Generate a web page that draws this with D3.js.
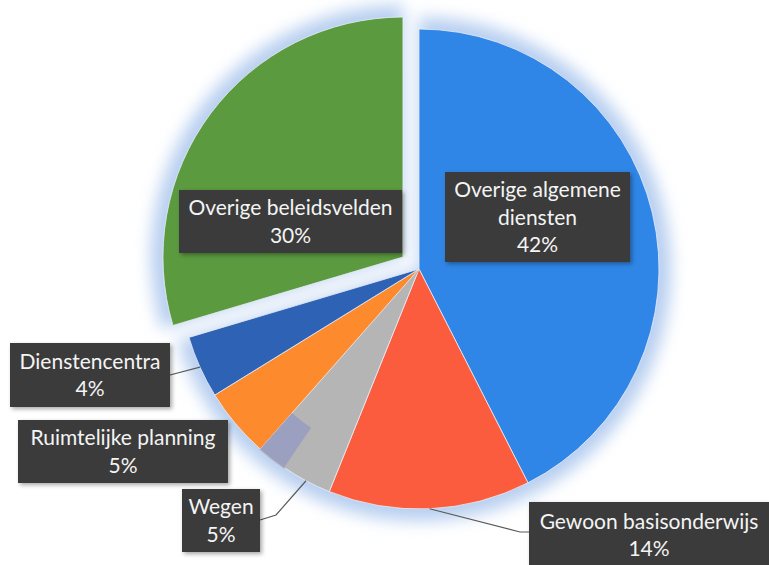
<!DOCTYPE html>
<html>
<head>
<meta charset="utf-8">
<script src="https://cdn.jsdelivr.net/npm/d3@7/dist/d3.min.js"></script>
<style>
  html, body { margin: 0; padding: 0; background: #ffffff; }
  svg { display: block; }
  text { font-family: Lato, "Open Sans", sans-serif; }
</style>
</head>
<body>
<svg id="chart" width="769" height="565"></svg>
<script>
// ---- data ----
const categories = [
  "Overige algemene diensten",
  "Gewoon basisonderwijs",
  "Wegen",
  "(overig)",
  "Ruimtelijke planning",
  "Dienstencentra",
  "Overige beleidsvelden"
];
const values = [42.5, 13.6, 3.4, 2.0, 4.7, 4.2, 29.6];
const percentLabels = ["42%", "14%", "5%", "", "5%", "4%", "30%"];
const labelLines = [
  ["Overige algemene", "diensten"],
  ["Gewoon basisonderwijs"],
  ["Wegen"],
  [],
  ["Ruimtelijke planning"],
  ["Dienstencentra"],
  ["Overige beleidsvelden"]
];
const colors = ["#2f86e6", "#fa5c3d", "#b5b5b5", "#9ca0c0", "#fd8b2d", "#2d62b4", "#5b9a3f"];

// ---- layout ----
const svg = d3.select("#chart");
const cx = 419, cy = 269, r = 240;
const explode = [0, 0, 0, 0, 0, 0, 20];
const rimOnly = [false, false, false, true, false, false, false]; // small slice only visible at the rim

const defs = svg.append("defs");
const glow = defs.append("filter").attr("id", "glow")
  .attr("x", "-20%").attr("y", "-20%").attr("width", "140%").attr("height", "140%");
glow.append("feGaussianBlur").attr("stdDeviation", 8);
const shadow = defs.append("filter").attr("id", "shadow")
  .attr("x", "-10%").attr("y", "-10%").attr("width", "130%").attr("height", "140%");
shadow.append("feDropShadow").attr("dx", 2).attr("dy", 2).attr("stdDeviation", 2)
  .attr("flood-color", "#000").attr("flood-opacity", 0.35);

const pie = d3.pie().sort(null).value(d => d)(values);
const arc = d3.arc().innerRadius(0).outerRadius(r);
const rimArc = d3.arc().innerRadius(r * 0.8).outerRadius(r);
const glowArc = d3.arc().innerRadius(0).outerRadius(r + 12);

function offset(d, i) {
  const mid = (d.startAngle + d.endAngle) / 2;
  return [Math.sin(mid) * explode[i], -Math.cos(mid) * explode[i]];
}

const g = svg.append("g").attr("transform", `translate(${cx},${cy})`);

// soft light-blue glow behind the pie
g.append("g").attr("filter", "url(#glow)")
  .selectAll("path").data(pie).join("path")
  .attr("transform", (d, i) => `translate(${offset(d, i)})`)
  .attr("d", glowArc)
  .attr("fill", "#b7cff0");

// slices (rim-only slice sits over a wedge in the neighbouring colour)
g.append("g").selectAll("path").data(pie).join("path")
  .attr("transform", (d, i) => `translate(${offset(d, i)})`)
  .attr("d", arc)
  .attr("fill", (d, i) => rimOnly[i] ? colors[i - 1] : colors[i])
  .attr("stroke", (d, i) => rimOnly[i] ? colors[i - 1] : "#e9eef7")
  .attr("stroke-width", (d, i) => rimOnly[i] ? 2 : 0.8);
g.append("g").selectAll("path").data(pie.filter((d, i) => rimOnly[i])).join("path")
  .attr("d", rimArc)
  .attr("fill", d => colors[d.index]);

// label boxes (box positions in px)
const boxes = {
  0: { x: 445, y: 172, w: 185, h: 90 },
  1: { x: 529, y: 502, w: 240, h: 66 },
  2: { x: 182, y: 489, w: 78,  h: 63 },
  4: { x: 18,  y: 420, w: 210, h: 63 },
  5: { x: 10,  y: 343, w: 160, h: 64 },
  6: { x: 179, y: 190, w: 223, h: 63 }
};

// leader lines from slice mid-angle on the rim to the label box
function rimPoint(i) {
  const d = pie[i];
  const mid = (d.startAngle + d.endAngle) / 2;
  const o = offset(d, i);
  return [cx + o[0] + Math.sin(mid) * r, cy + o[1] - Math.cos(mid) * r];
}
const leaders = [
  { i: 5, pts: b => [rimPoint(5), [b.x + b.w, 375]] },
  { i: 2, pts: b => [rimPoint(2), [276, 515], [b.x + b.w, 520]] },
  { i: 1, pts: b => [rimPoint(1), [520, 532], [b.x, 532]] }
];
leaders.forEach(l => {
  svg.append("path")
    .attr("d", d3.line()(l.pts(boxes[l.i])))
    .attr("fill", "none")
    .attr("stroke", "#5a5a5a")
    .attr("stroke-width", 1.2);
});

Object.keys(boxes).forEach(k => {
  const i = +k, b = boxes[k];
  const lab = svg.append("g");
  lab.append("rect")
    .attr("x", b.x).attr("y", b.y).attr("width", b.w).attr("height", b.h)
    .attr("fill", "#3a3a3a").attr("filter", "url(#shadow)");
  const lines = labelLines[i].concat([percentLabels[i]]);
  const lh = 27.5;
  const top = b.y + b.h / 2 - (lines.length - 1) * lh / 2;
  lines.forEach((t, j) => {
    lab.append("text")
      .attr("x", b.x + b.w / 2)
      .attr("y", top + j * lh)
      .attr("dy", "0.36em")
      .attr("text-anchor", "middle")
      .attr("fill", "#f4f4f4")
      .attr("font-size", 21)
      .text(t);
  });
});
</script>
</body>
</html>
